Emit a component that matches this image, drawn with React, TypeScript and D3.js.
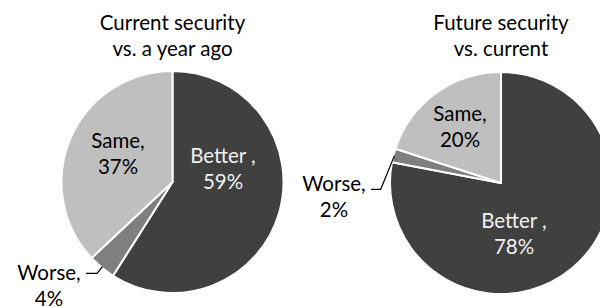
import React from 'react';
import * as d3 from 'd3';

// data
const categories = ['Better', 'Worse', 'Same'];
const labelNames = ['Better ,', 'Worse,', 'Same,'];
const currentVsYearAgo = [59, 4, 37];
const futureVsCurrent = [78, 2, 20];
const titleCurrent = ['Current security', 'vs. a year ago'];
const titleFuture = ['Future security', 'vs. current'];

const sliceColors = ['#404040', '#7f7f7f', '#bfbfbf'];
const textColors = ['#f2f2f2', '#000000', '#000000'];

const WIDTH = 600;
const HEIGHT = 307;
const FONT = 'Lato, "Open Sans", sans-serif';
const FONT_SIZE = 20.5;
const LINE = 26;

// layout for each pie: centre, radius, label anchors (dx, dy of first baseline), leader elbow
const pies = [
  {
    values: currentVsYearAgo,
    title: titleCurrent,
    cx: 172.5,
    cy: 182,
    r: 111,
    labels: [[50.5, -19], [-123.5, 97.5], [-54.5, -34]],
    leader: [[-75.5, 91.3], [-86.5, 91.3]],
  },
  {
    values: futureVsCurrent,
    title: titleFuture,
    cx: 501,
    cy: 183,
    r: 111,
    labels: [[13, 45], [-167, 7.5], [-41, -62]],
    leader: [[-120.3, 6.3], [-130, 6.3]],
  },
];

const Pie = ({ p }: { p: typeof pies[number] }) => {
  const slices = d3.pie<number>().sort(null).value(d => d)(p.values);
  const arc = d3.arc<d3.PieArcDatum<number>>().innerRadius(0).outerRadius(p.r);
  const edge = d3.arc<d3.PieArcDatum<number>>().innerRadius(p.r - 1).outerRadius(p.r - 1);
  const line = d3.line();

  return (
    <g transform={`translate(${p.cx},${p.cy})`}>
      {slices.map((s, i) => (
        <path key={categories[i]} d={arc(s) || ''} fill={sliceColors[i]}
          stroke="#ffffff" strokeWidth={2} strokeLinejoin="round" />
      ))}
      {/* leader for the small "Worse" slice */}
      <path
        d={line([edge.centroid(slices[1]) as [number, number], p.leader[0] as [number, number], p.leader[1] as [number, number]]) || ''}
        fill="none" stroke="#000" strokeWidth={1.2} />
      {slices.map((s, i) => (
        <text key={'l' + i} x={p.labels[i][0]} y={p.labels[i][1]} textAnchor="middle"
          fill={textColors[i]} fontSize={FONT_SIZE} fontFamily={FONT}>
          <tspan x={p.labels[i][0]}>{labelNames[i]}</tspan>
          <tspan x={p.labels[i][0]} dy={LINE}>{`${s.data}%`}</tspan>
        </text>
      ))}
      <text x={0} y={-p.cy + 30} textAnchor="middle" fill="#000" fontSize={FONT_SIZE} fontFamily={FONT}>
        <tspan x={0}>{p.title[0]}</tspan>
        <tspan x={0} dy={26}>{p.title[1]}</tspan>
      </text>
    </g>
  );
};

export default function App() {
  return (
    <svg width={WIDTH} height={HEIGHT}
      style={{ position: 'absolute', left: 0, top: 0, background: '#ffffff' }}>
      {pies.map((p, i) => <Pie key={i} p={p} />)}
    </svg>
  );
}
